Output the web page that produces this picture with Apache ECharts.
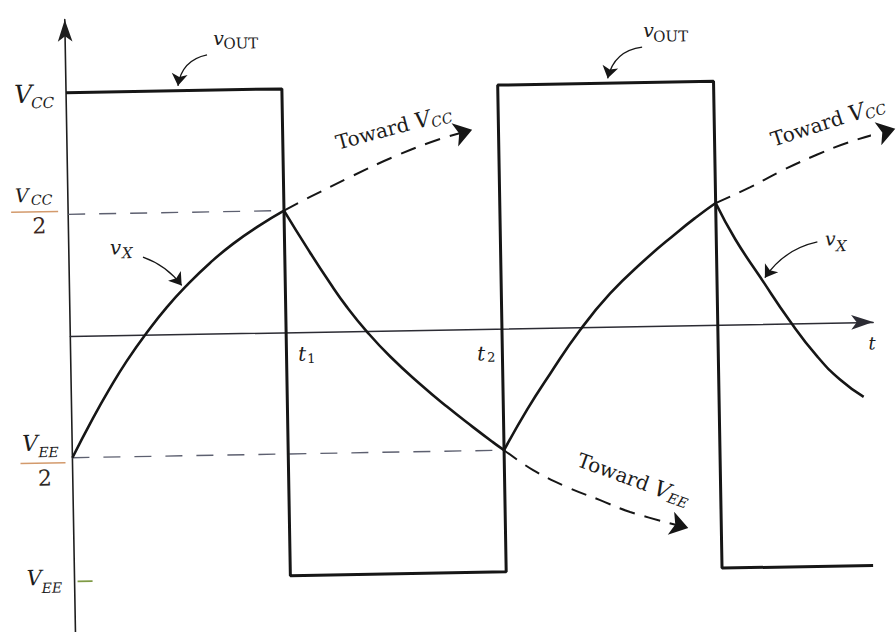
<!DOCTYPE html>
<html>
<head>
<meta charset="utf-8">
<script src="https://cdn.jsdelivr.net/npm/echarts@6/dist/echarts.min.js"></script>
<style>
  html, body { margin: 0; padding: 0; background: #fff; overflow: hidden; width: 896px; height: 632px; }
  #chart { position: absolute; left: -22px; top: -24px; width: 940px; height: 680px;
           transform: rotate(-1deg); transform-origin: 50% 50%; }
</style>
</head>
<body>
<div id="chart"></div>
<script>
// Voltage levels, in units of VCC (VEE = -VCC)
const VCC = 1;
const VEE = -1;
const HALF_VCC = 0.5;
const HALF_VEE = -0.5;

// Time in units of the half period; t1 and t2 are the first two switching instants
const tMax = 3.72;

// Comparator output: square wave between VCC and VEE
const vOut = [[0, 1], [1, 1], [1, -1], [2, -1], [2, 1], [3, 1], [3, -1], [3.70, -1]];

// Capacitor voltage vX, one array per charge / discharge stretch
const vxCharge1 = [[0, -0.5], [0.098, -0.340], [0.179, -0.218], [0.260, -0.106], [0.355, 0.009],
  [0.450, 0.112], [0.545, 0.201], [0.653, 0.290], [0.761, 0.367], [0.888, 0.442], [1, 0.5]];
const vxDischarge1 = [[1, 0.5], [1.104, 0.345], [1.208, 0.198], [1.284, 0.099], [1.375, -0.004],
  [1.480, -0.107], [1.616, -0.222], [1.740, -0.318], [1.858, -0.403], [1.950, -0.467], [2, -0.5]];
const vxCharge2 = [[2, -0.5], [2.110, -0.335], [2.219, -0.190], [2.362, -0.012], [2.504, 0.136],
  [2.659, 0.265], [2.819, 0.382], [2.904, 0.440], [3, 0.5]];
const vxDischarge2 = [[3, 0.5], [3.088, 0.350], [3.201, 0.192], [3.336, 0.008], [3.458, -0.137],
  [3.563, -0.235], [3.67, -0.307]];

// Exponential paths the capacitor would follow if the output did not switch
const towardVcc1 = [[1, 0.5], [1.122, 0.554], [1.309, 0.633], [1.510, 0.712], [1.715, 0.779], [1.878, 0.818]];
const towardVcc2 = [[3, 0.5], [3.162, 0.563], [3.316, 0.631], [3.475, 0.692], [3.628, 0.742], [3.838, 0.792]];
const towardVee = [[2, -0.5], [2.133, -0.584], [2.289, -0.656], [2.441, -0.712], [2.579, -0.763], [2.847, -0.833]];

// Threshold guide lines
const halfVccGuide = [[0, HALF_VCC], [1, HALF_VCC]];
const halfVeeGuide = [[0, HALF_VEE], [2, HALF_VEE]];

// Callout arrows: [from, to, curveness]
const callouts = [
  [[0.656, 1.145], [0.519, 1.02], -0.35],
  [[2.672, 1.146], [2.510, 1.02], -0.35],
  [[0.343, 0.319], [0.520, 0.200], 0.15],
  [[3.468, 0.333], [3.222, 0.190], -0.2]
];

const INK = '#161616';
const FONT = "'DejaVu Serif', 'Liberation Serif', serif";

const chart = echarts.init(document.getElementById('chart'), null, { renderer: 'svg' });

function plain(name, data, width, extra) {
  return Object.assign({
    name, type: 'line', data, showSymbol: false, symbol: 'none', clip: false,
    silent: true, lineStyle: { color: INK, width }
  }, extra || {});
}

const dashedTrace = { type: [16, 10] };

chart.setOption({
  animation: false,
  backgroundColor: '#fff',
  grid: { left: 92, right: 45, top: 37, bottom: 0.4 },
  xAxis: {
    type: 'value', min: 0, max: tMax,
    axisLine: { onZero: true, symbol: ['none', 'arrow'], symbolSize: [11, 22],
      lineStyle: { color: '#2c2c34', width: 1.5 } },
    axisTick: { show: false }, axisLabel: { show: false }, splitLine: { show: false }
  },
  yAxis: {
    type: 'value', min: -1.34, max: 1.30,
    axisLine: { show: true, onZero: false, symbol: ['none', 'arrow'], symbolSize: [11, 22],
      lineStyle: { color: '#1e1e1e', width: 1.6 } },
    axisTick: { show: false }, axisLabel: { show: false }, splitLine: { show: false }
  },
  series: [
    plain('VCC/2', halfVccGuide, 1.4, { lineStyle: { color: '#5d6070', width: 1.4, type: [17, 14] } }),
    plain('VEE/2', halfVeeGuide, 1.4, { lineStyle: { color: '#5d6070', width: 1.4, type: [17, 14] } }),
    plain('vOUT', vOut, 3, { z: 4 }),
    plain('vX charge 1', vxCharge1, 2.6, { smooth: 0.5 }),
    plain('vX discharge 1', vxDischarge1, 2.6, { smooth: 0.5 }),
    plain('vX charge 2', vxCharge2, 2.6, { smooth: 0.5 }),
    plain('vX discharge 2', vxDischarge2, 2.6, { smooth: 0.5 }),
    plain('Toward VCC 1', towardVcc1, 2, { smooth: 0.4, lineStyle: Object.assign({ color: INK, width: 2 }, dashedTrace) }),
    plain('Toward VCC 2', towardVcc2, 2, { smooth: 0.4, lineStyle: Object.assign({ color: INK, width: 2 }, dashedTrace) }),
    plain('Toward VEE', towardVee, 2, { smooth: 0.4, lineStyle: Object.assign({ color: INK, width: 2 }, dashedTrace) }),
    {
      name: 'arrowheads', type: 'lines', coordinateSystem: 'cartesian2d', silent: true, clip: false,
      symbol: ['none', 'arrow'], symbolSize: [10, 18],
      lineStyle: { color: INK, width: 0, opacity: 1 },
      data: [towardVcc1, towardVcc2, towardVee].map(p => ({ coords: [p[p.length - 2], p[p.length - 1]] }))
    },
    {
      name: 'callouts', type: 'lines', coordinateSystem: 'cartesian2d', silent: true, clip: false,
      symbol: ['none', 'arrow'], symbolSize: [8, 12],
      lineStyle: { color: INK, width: 1.3, opacity: 1 },
      data: callouts.map(c => ({ coords: [c[0], c[1]], lineStyle: { curveness: c[2] } }))
    }
  ]
});

const P = (t, v) => chart.convertToPixel({ gridIndex: 0 }, [t, v]);

function txt(x, y, s, size, italic, align, color) {
  return {
    type: 'text', x, y, silent: true, z: 10,
    style: {
      text: s, fontFamily: FONT, fontSize: size, fontStyle: italic ? 'italic' : 'normal',
      fill: color || '#1c1c1c', align: align || 'left', textAlign: align || 'left',
      verticalAlign: 'middle', textVerticalAlign: 'middle'
    }
  };
}
function seg(x1, y1, x2, y2, color, w) {
  return { type: 'line', silent: true, z: 10, shape: { x1, y1, x2, y2 }, style: { stroke: color, lineWidth: w } };
}
function toward(t, v, deg, sub) {
  const [x, y] = P(t, v);
  return {
    type: 'text', x, y, rotation: deg * Math.PI / 180, silent: true, z: 10,
    style: {
      text: '{a|Toward }{v|V}{s|' + sub + '}', align: 'left', textAlign: 'left',
      verticalAlign: 'middle', textVerticalAlign: 'middle',
      rich: {
        a: { fontFamily: FONT, fontSize: 20, lineHeight: 24, fill: '#1c1c1c' },
        v: { fontFamily: FONT, fontSize: 22, fontStyle: 'italic', lineHeight: 24, fill: '#1c1c1c' },
        s: { fontFamily: FONT, fontSize: 14, fontStyle: 'italic', lineHeight: 14, verticalAlign: 'bottom', fill: '#1c1c1c' }
      }
    }
  };
}

const ax = P(0, 0)[0];
const els = [];
const BAR = '#d39a6c';

// VCC
let y = P(0, VCC)[1];
els.push(txt(ax - 52, y + 1, 'V', 25, true), txt(ax - 35, y + 10, 'CC', 15, true));
// VCC / 2
y = P(0, HALF_VCC)[1];
els.push(txt(ax - 53, y - 20, 'V', 19, true), txt(ax - 37, y - 15, 'CC', 14, true),
  seg(ax - 57, y - 3, ax - 10, y - 3, BAR, 1.5), txt(ax - 29, y + 11, '2', 22, false, 'center', '#3b2620'));
// VEE / 2
y = P(0, HALF_VEE)[1];
els.push(txt(ax - 50, y - 15, 'V', 22, true), txt(ax - 34, y - 6, 'EE', 14, true),
  seg(ax - 52, y + 5, ax - 7, y + 5, BAR, 1.5), txt(ax - 28, y + 20, '2', 22, false, 'center', '#2e2a26'));
// VEE with its tick
y = P(0, VEE)[1];
els.push(txt(ax - 48, y - 2, 'V', 21, true), txt(ax - 33, y + 8, 'EE', 14, true),
  seg(ax + 3, y + 2, ax + 18, y + 2, '#7f9a45', 1.6));

// vOUT labels
let p = P(0.686, 1.214);
els.push(txt(p[0], p[1], 'v', 19, true), txt(p[0] + 10, p[1] + 6, 'OUT', 15, false));
p = P(2.678, 1.216);
els.push(txt(p[0], p[1], 'v', 19, true), txt(p[0] + 10, p[1] + 7, 'OUT', 15, false));
// vX labels
p = P(0.190, 0.361);
els.push(txt(p[0], p[1], 'v', 20, true), txt(p[0] + 12, p[1] + 6, 'X', 15, true));
p = P(3.503, 0.347);
els.push(txt(p[0], p[1], 'v', 19, true), txt(p[0] + 11, p[1] + 8, 'X', 15, true));

// time labels
p = P(1.054, -0.089);
els.push(txt(p[0], p[1], 't', 20, true), txt(p[0] + 9, p[1] + 5, '1', 13, false));
p = P(1.883, -0.101);
els.push(txt(p[0], p[1], 't', 20, true), txt(p[0] + 10, p[1] + 4, '2', 13, false));
p = P(3.696, -0.086);
els.push(txt(p[0], p[1], 't', 18, true));

// asymptote captions
els.push(toward(1.247, 0.774, 14, 'CC'), toward(3.263, 0.755, 17, 'CC'), toward(2.342, -0.542, -21, 'EE'));

chart.setOption({ graphic: { elements: els } });
</script>
</body>
</html>
